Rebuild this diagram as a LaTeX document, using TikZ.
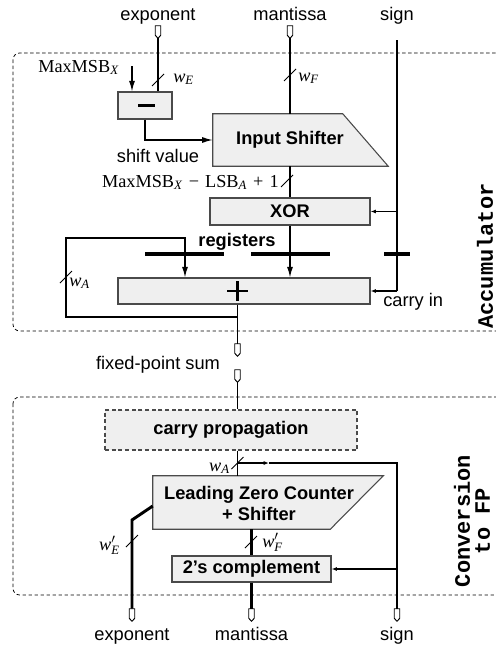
\documentclass[tikz,border=0pt]{standalone}
\usepackage{fontspec}
\setmainfont{Liberation Sans}
\newfontfamily\tms{Liberation Serif}
\newfontfamily\crr{Liberation Mono}
\usetikzlibrary{arrows.meta,calc}
\definecolor{boxfill}{HTML}{EFEFEF}
\definecolor{boxgray}{HTML}{4A4A4A}
\newcommand\pxu{0.75pt}
\newcommand\wl[1]{{\tms\itshape w\textsubscript{#1}}}
\newcommand\wpr[1]{{\tms\itshape w$'_{\mbox{\fontsize{9.6}{10}\selectfont\tms\itshape #1}}$}}
\newcommand\mkpin[2]{%
  \node[inner sep=0, minimum width=5*\pxu, minimum height=12*\pxu] (#1) at (#2) {};
  \filldraw[fill=white, line width=0.7pt] (#1.north west) -- (#1.north east) -- ([yshift=3*\pxu]#1.south east) -- (#1.south) -- ([yshift=3*\pxu]#1.south west) -- cycle;}
\newcommand\slashat[1]{\draw[line width=0.6pt] ($(#1)+(-6,6)$) -- ($(#1)+(6,-6)$);}
\begin{document}
\begin{tikzpicture}[x=0.75pt,y=-0.75pt, font=\fontsize{13.7}{16}\selectfont,
  box/.style={draw=boxgray, fill=boxfill, line width=0.8pt, inner sep=0},
  shapebox/.style={draw=boxgray, fill=boxfill, line width=0.8pt},
  wire/.style={line width=0.9pt},
  thickwire/.style={line width=2.2pt},
  arr/.style={-{Latex[length=8pt,width=4.5pt]}},
  sarr/.style={-{Latex[length=4pt,width=3pt]}},
  region/.style={dashed, dash pattern=on 2.5pt off 2pt, line width=0.6pt, rounded corners=5pt},
  regbar/.style={fill=black, inner sep=0, minimum height=4*\pxu},
  lab/.style={inner sep=0, anchor=base},
  bold/.style={font=\fontsize{13.7}{16}\selectfont\bfseries}]
\useasboundingbox (0,0) rectangle (496,646);
\clip (0,0) rectangle (496,646);

% regions
\draw[region] (13,53) rectangle (530,331);
\draw[region] (13,397) rectangle (530,595);
\node[rotate=90, inner sep=0, font=\crr\bfseries\fontsize{16.5}{18}\selectfont] (accL) at (485,256) {Accumulator};
\node[rotate=90, inner sep=0, align=center, font=\crr\bfseries\fontsize{16.5}{15}\selectfont] (convL) at (472,521) {Conversion\\to FP};

% top labels and pins
\node[lab] (tExp) at (158,21) {exponent};
\node[lab] (tMan) at (290,21) {mantissa};
\node[lab] (tSign) at (397,21) {sign};
\mkpin{pinExpIn}{158,32}
\mkpin{pinManIn}{290,32}
\coordinate (signTop) at (397,40);

% subtractor
\node[box, minimum width=54*\pxu, minimum height=27*\pxu] (sub) at (145,105.5) {};
\draw[line width=2.4pt] ($(sub.center)+(-7,0)$) -- ($(sub.center)+(10,0)$);
\node[lab, anchor=base west, font=\tms\fontsize{13.7}{16}\selectfont] (mmLab) at (38,72) {MaxMSB\textsubscript{\itshape X}};
\coordinate (mmTop) at (132,66);
\draw[wire,arr] (mmTop) -- (mmTop |- sub.north);
\draw[wire] (pinExpIn.south) -- (pinExpIn.south |- sub.north);
\slashat{158,80}
\node[lab, anchor=base west] (wE) at (173,82) {\wl{E}};

% input shifter
\node[inner sep=0, minimum width=175*\pxu, minimum height=52*\pxu] (ish) at (300.5,140) {};
\draw[shapebox] (ish.north west) -- ++(130,0) -- (ish.south east) -- (ish.south west) -- cycle;
\node[bold, inner sep=0] (ishT) at (290,140) {Input Shifter};
\draw[wire,arr] (sub.south) |- (ish.west);
\node[lab] (shv) at (158,162) {shift value};
\draw[wire] (pinManIn.south) -- (pinManIn.south |- ish.north);
\slashat{290,75}
\node[lab, anchor=base west] (wF) at (298,81) {\wl{F}};

% XOR
\node[box, bold, minimum width=160*\pxu, minimum height=27*\pxu] (xor) at (290,211.5) {XOR};
\draw[wire] (xor.north |- ish.south) -- (xor.north);
\slashat{287,181}
\node[lab, anchor=base east, font=\tms\fontsize{13.7}{16}\selectfont] (rangeLab) at (279,187) {MaxMSB\textsubscript{\itshape X}\,\,−\,\,LSB\textsubscript{\itshape A}\,\,+\,\,1};

% adder and registers
\node[box, minimum width=252*\pxu, minimum height=26*\pxu] (add) at (244,291) {};
\coordinate (pc) at (237.5,291);
\draw[line width=2.2pt] ($(pc)+(-10.5,0)$) -- ($(pc)+(10.5,0)$);
\draw[line width=2.2pt] ($(pc)+(0,-10)$) -- ($(pc)+(0,10)$);
\node[lab, font=\fontsize{13.7}{16}\selectfont\bfseries] (regLab) at (237,246) {registers};

\coordinate (fbL) at (66,317);
\coordinate (fbT) at (185,238);
\draw[wire,arr] (pc |- add.south) |- (fbL) |- (fbT) -- (fbT |- add.north);
\draw[wire,arr] (xor.south) -- (xor.south |- add.north);
\draw[wire] (signTop) -- (signTop |- add.east);
\draw[wire,sarr] (signTop |- xor.east) -- (xor.east);
\draw[wire,sarr] (signTop |- add.east) -- (add.east);
\node[regbar, minimum width=79*\pxu] (reg1) at (184.5,254) {};
\node[regbar, minimum width=79*\pxu] (reg2) at (290.5,254) {};
\node[regbar, minimum width=26*\pxu] (reg3) at (397,254) {};
\slashat{66,277}
\node[lab, anchor=base west] (wA1) at (69,286) {\wl{A}};
\node[lab, anchor=base west] (cin) at (383,306) {carry in};

% fixed-point sum
\mkpin{pinSum1}{237.5,350}
\mkpin{pinSum2}{237.5,376}
\draw[wire] (pc |- add.south) -- (pinSum1.north);
\node[lab] (fps) at (158,369) {fixed-point sum};

% carry propagation
\node[box, dashed, dash pattern=on 3pt off 2pt, bold, minimum width=252*\pxu, minimum height=40*\pxu] (cp) at (231,430) {carry propagation};
\draw[wire] (pinSum2.south) -- (pinSum2.south |- cp.north);

% LZC
\node[inner sep=0, minimum width=230*\pxu, minimum height=53*\pxu] (lzc) at (268,502.5) {};
\draw[shapebox] (lzc.north west) -- (lzc.north east) -- ($(lzc.south east)+(-53,0)$) -- (lzc.south west) -- cycle;
\node[bold, inner sep=0, align=center] (lzcT) at (259,503.5) {Leading Zero Counter\\+ Shifter};
\draw[wire] (pinSum2.south |- cp.south) -- (pinSum2.south |- lzc.north);
\slashat{237.5,463}
\node[lab, anchor=base east] (wA2) at (230,471) {\wl{A}};
\coordinate (br) at (237.5,463);
\coordinate (brMid) at (269,463);
\coordinate (brR) at (397,463);

% 2's complement
\node[box, bold, minimum width=159*\pxu, minimum height=26*\pxu] (tc) at (251.5,569) {2’s complement};

% bottom pins
\mkpin{pinExpOut}{132,615}
\mkpin{pinManOut}{251.5,615}
\mkpin{pinSignOut}{397,615}
\draw[wire,sarr] (br) -- (brMid);
\draw[wire] (brMid) -- (brR) -- (pinSignOut.north);
\draw[wire,sarr] (brR |- tc.east) -- (tc.east);

\coordinate (lzcE) at ($(lzc.west)+(0,3.5)$);
\coordinate (eBend) at (132,520);
\draw[thickwire] (lzcE) -- (eBend) -- (pinExpOut.north);
\slashat{132,541}
\node[lab, anchor=base east] (wE2) at (120,550) {\wpr{E}};

\draw[thickwire] (tc.north |- lzc.south) -- (tc.north);
\draw[thickwire] (tc.south) -- (pinManOut.north);
\slashat{251,542}
\node[lab, anchor=base west] (wF2) at (262,547) {\wpr{F}};

% bottom labels
\node[lab] (bExp) at (132,640) {exponent};
\node[lab] (bMan) at (251.5,640) {mantissa};
\node[lab] (bSign) at (397,640) {sign};
\end{tikzpicture}
\end{document}
